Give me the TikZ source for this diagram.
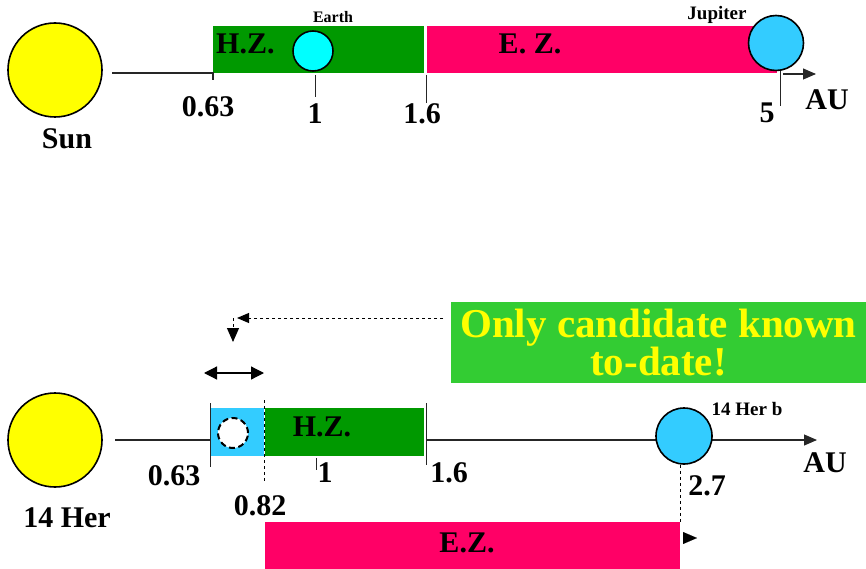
\documentclass[tikz,border=0pt]{standalone}
\usepackage{fontspec}
\setmainfont{Liberation Serif}
\usetikzlibrary{arrows.meta}
\definecolor{hzgreen}{HTML}{009900}
\definecolor{ezpink}{HTML}{FF0066}
\definecolor{earthcyan}{HTML}{00FFFF}
\definecolor{planetblue}{HTML}{33CCFF}
\definecolor{sunyellow}{HTML}{FFFF00}
\definecolor{calloutgreen}{HTML}{33CC33}
\begin{document}
\begin{tikzpicture}[x=1pt,y=-1pt,
  lab/.style={font=\fontsize{30}{30}\selectfont\bfseries, inner sep=0},
  smalllab/.style={font=\fontsize{19}{19}\selectfont\bfseries, inner sep=0},
  zone/.style={anchor=north west, inner sep=0, minimum height=47},
  body/.style={circle, draw=black, line width=1.6pt, inner sep=0},
  axisline/.style={line width=1.1pt, black!85},
  tickline/.style={line width=1pt, black!85},
  dashline/.style={line width=1pt, dash pattern=on 3pt off 3pt},
  tip/.style={-{Triangle[length=13pt,width=11pt]}}
]
\useasboundingbox (0,0) rectangle (866,569);

% ---------------- top: Sun ----------------
\node[body, fill=sunyellow, minimum size=94] (sun1) at (55,70) {};
\node[lab] (sunlab) at (67,139) {Sun};

\node[zone, fill=hzgreen, minimum width=211] (hz1) at (213,26) {};
\node[zone, fill=ezpink, minimum width=350] (ez1) at (427,26) {};
\node[lab, anchor=west] (hz1lab) at (216,44) {H.Z.};
\node[lab] (ez1lab) at (530,44) {E. Z.};

\coordinate (a1s) at (112,73);
\coordinate (a1t) at (213,73);
\draw[axisline] (a1s) -- (a1t) -- ++(0,7);

\coordinate (t1a) at (315,75);
\coordinate (t1b) at (315,97);
\draw[tickline] (t1a) -- (t1b);
\coordinate (t16a) at (426,75);
\coordinate (t16b) at (426,103);
\draw[tickline] (t16a) -- (t16b);

\node[body, fill=earthcyan, minimum size=40] (earth) at (313,51) {};
\node[font=\fontsize{16}{16}\selectfont\bfseries, inner sep=0] (earthlab) at (333,17) {Earth};

\node[body, fill=planetblue, minimum size=55] (jup) at (776,43) {};
\node[smalllab] (juplab) at (717,15) {Jupiter};
\coordinate (t5b) at (780,106);
\draw[tickline] (jup.south) ++(4,0) -- (t5b);
\coordinate (ar1s) at (783,74);
\coordinate (ar1e) at (816,74);
\draw[axisline, tip] (ar1s) -- (ar1e);

\node[lab] (n063a) at (208,107) {0.63};
\node[lab] (n1a) at (315,114) {1};
\node[lab] (n16a) at (422,114) {1.6};
\node[lab] (n5) at (767,113) {5};
\node[lab] (au1) at (827,100) {AU};

% ---------------- bottom: 14 Her ----------------
\node[body, fill=sunyellow, minimum size=94] (sun2) at (55,440) {};
\node[lab] (herlab) at (67,518) {14 Her};

\coordinate (a2s) at (115,440);
\coordinate (a2t) at (210,440);
\draw[axisline] (a2s) -- (a2t);
\coordinate (a3s) at (427,440);
\coordinate (a3e) at (817,440);
\draw[axisline, tip] (a3s) -- (a3e);

\node[zone, fill=planetblue, minimum width=53, minimum height=48] (blue) at (211,408) {};
\node[zone, fill=hzgreen, minimum width=159, minimum height=48] (hz2) at (265,408) {};
\node[lab] (hz2lab) at (322,427) {H.Z.};

\coordinate (t063a) at (210,403);
\coordinate (t063b) at (210,467);
\draw[tickline] (t063a) -- (t063b);
\coordinate (t082a) at (264,400);
\coordinate (t082b) at (264,483);
\draw[dashline] (t082a) -- (t082b);
\coordinate (t1ca) at (316,458);
\coordinate (t1cb) at (316,470);
\draw[tickline] (t1ca) -- (t1cb);
\coordinate (t16ca) at (426,403);
\coordinate (t16cb) at (426,465);
\draw[tickline] (t16ca) -- (t16cb);

\node[circle, draw=black, fill=white, line width=2pt, dash pattern=on 6pt off 3.5pt, minimum size=30, inner sep=0] (cand) at (233,433) {};

\node[body, fill=planetblue, minimum size=56] (herb) at (684,436) {};
\node[smalllab] (herblab) at (747,409) {14 Her b};

\node[lab] (n063b) at (174,476) {0.63};
\node[lab] (n1b) at (325,473) {1};
\node[lab] (n16b) at (449,473) {1.6};
\node[lab] (n082) at (260,506) {0.82};
\node[lab] (n27) at (707,486) {2.7};
\node[lab] (au2) at (825,463) {AU};

\node[anchor=north west, fill=ezpink, inner sep=0, minimum width=415, minimum height=48] (ez2) at (265,522) {};
\node[lab] (ez2lab) at (467,543) {E.Z.};
\coordinate (t27b) at (680,522);
\draw[dashline] (herb.south) ++(-4,0) -- (t27b);
\coordinate (ezarr) at (697,538);
\coordinate (ezarrs) at (683,538);
\draw[line width=0.1pt, -{Triangle[length=14pt,width=12pt]}] (ezarrs) -- (ezarr);

% range double arrow
\coordinate (rl) at (204,373);
\coordinate (rr) at (264,373);
\draw[line width=1.2pt, {Triangle[length=13pt,width=13pt]}-{Triangle[length=13pt,width=13pt]}] (rl) -- (rr);

% callout
\node[fill=calloutgreen, inner sep=0, minimum width=415, minimum height=81, text=sunyellow, align=center,
      font=\fontsize{41}{35}\selectfont\bfseries] (callout) at (658.5,342.5) {Only candidate known\\to-date!};
\coordinate (cs) at (443,318);
\coordinate (ce) at (237,318);
\draw[dashline, -{Triangle[length=12pt,width=10pt]}] (cs) -- (ce);
\coordinate (ds) at (233,318);
\coordinate (de) at (233,342);
\draw[dashline, -{Triangle[length=14pt,width=12pt]}] (ds) -- (de);
\end{tikzpicture}
\end{document}
